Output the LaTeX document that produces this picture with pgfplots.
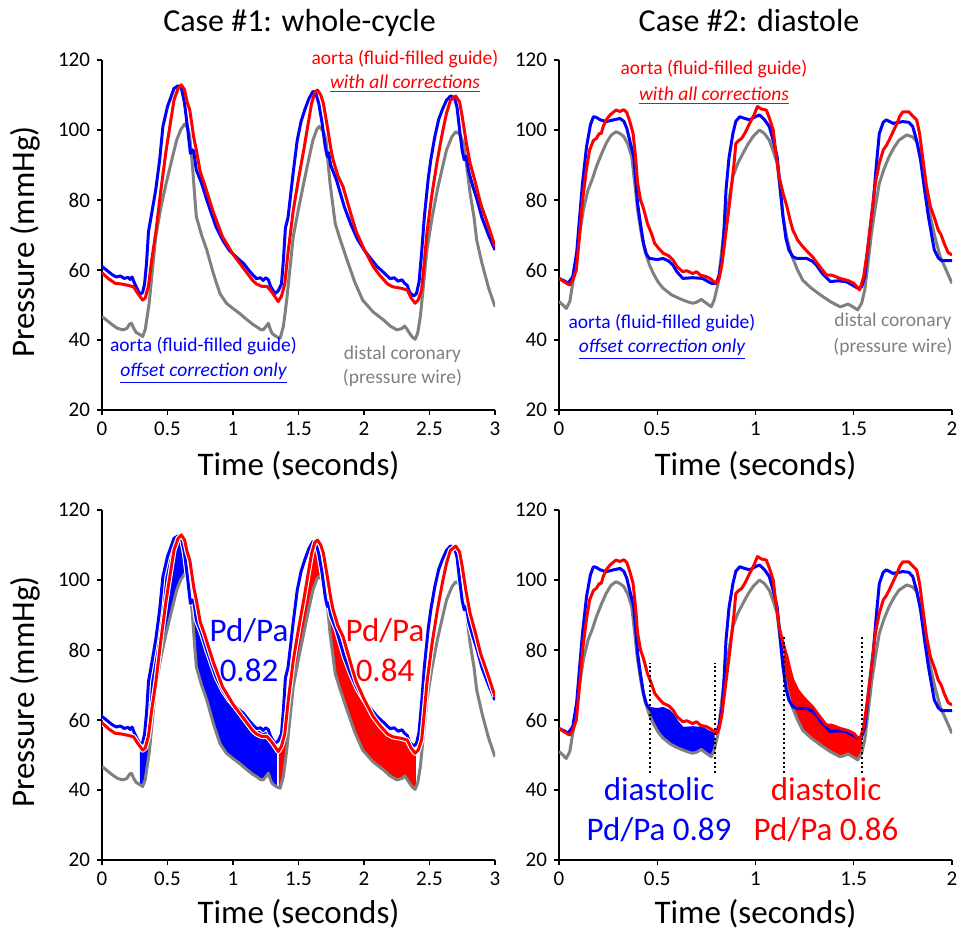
\documentclass[border=0pt]{standalone}
\usepackage{pgfplots}
\pgfplotsset{compat=1.18}
\usepackage{pgfplotstable}
\usepackage{fontspec}
\setmainfont{Carlito}

\definecolor{cblue}{RGB}{0,0,255}
\definecolor{cred}{RGB}{255,0,0}
\definecolor{cgray}{RGB}{128,128,128}
\newcommand{\fa}{\fontsize{9.75}{11}\selectfont}
\newcommand{\fb}{\fontsize{16.5}{19}\selectfont}
\newcommand{\ft}{\fontsize{16}{19}\selectfont}
\newcommand{\fl}{\fontsize{16.5}{20}\selectfont}

% Case 1: aorta, offset correction only
\pgfplotstableread{
t v
0.00 61.0
0.04 59.8
0.08 58.6
0.11 58.0
0.14 58.3
0.17 57.6
0.20 57.9
0.215 57.3
0.23 58.0
0.245 56.5
0.27 54.5
0.29 53.0
0.31 53.6
0.325 56.0
0.34 62.0
0.355 71.0
0.375 75.2
0.41 82.9
0.44 91.4
0.465 101.0
0.50 106.7
0.55 111.9
0.58 112.6
0.605 112.2
0.63 107.6
0.655 100.0
0.675 93.3
0.69 94.3
0.70 94.0
0.72 88.6
0.76 84.8
0.80 80.0
0.87 72.4
0.92 68.6
0.97 65.7
1.03 63.5
1.08 61.9
1.13 59.5
1.18 57.5
1.21 57.8
1.23 57.0
1.25 57.8
1.27 57.2
1.285 55.5
1.30 54.5
1.32 53.3
1.345 54.0
1.37 56.0
1.385 63.0
1.40 72.0
1.42 75.0
1.46 88.0
1.49 97.0
1.52 102.5
1.55 106.0
1.58 109.0
1.61 111.0
1.63 110.8
1.655 107.5
1.68 102.0
1.705 95.0
1.72 92.4
1.73 93.5
1.745 90.0
1.79 85.7
1.85 78.0
1.90 73.0
1.95 68.8
2.00 65.8
2.05 63.3
2.10 61.0
2.15 59.3
2.20 57.5
2.23 57.8
2.26 56.8
2.29 57.2
2.31 56.2
2.33 55.6
2.35 53.5
2.38 52.6
2.40 53.2
2.42 56.5
2.44 65.0
2.46 75.0
2.49 86.0
2.51 91.5
2.54 98.0
2.57 103.0
2.60 106.0
2.63 108.5
2.66 109.7
2.69 109.3
2.71 106.5
2.73 100.0
2.75 94.0
2.765 91.5
2.78 92.5
2.80 88.0
2.83 84.0
2.86 80.5
2.90 75.0
2.95 70.0
3.00 65.7
}\cAb

% Case 1: aorta, all corrections
\pgfplotstableread{
t v
0.00 59.2
0.05 57.5
0.10 56.2
0.15 56.0
0.20 55.6
0.24 55.2
0.27 53.5
0.31 51.4
0.33 52.0
0.355 55.5
0.38 63.0
0.41 70.5
0.45 83.0
0.49 94.3
0.52 101.5
0.55 108.6
0.58 111.8
0.605 112.9
0.63 111.5
0.65 108.0
0.67 105.7
0.70 98.0
0.72 94.3
0.75 88.0
0.78 84.8
0.85 76.5
0.92 69.5
1.00 64.5
1.05 62.0
1.10 59.5
1.15 57.0
1.18 56.0
1.22 55.3
1.26 55.3
1.30 53.5
1.345 51.0
1.37 52.5
1.395 56.0
1.42 65.0
1.46 77.0
1.50 86.0
1.54 94.3
1.57 101.0
1.60 107.6
1.625 110.8
1.645 111.4
1.67 110.0
1.69 107.6
1.72 101.0
1.75 94.0
1.765 91.4
1.80 87.0
1.84 83.8
1.90 76.0
1.94 71.0
2.00 66.0
2.07 61.0
2.12 58.5
2.18 56.0
2.22 55.2
2.28 54.8
2.33 54.3
2.36 52.0
2.39 50.5
2.415 51.5
2.44 54.3
2.46 62.0
2.48 70.5
2.52 82.0
2.56 91.4
2.60 99.5
2.63 104.8
2.66 108.5
2.70 109.7
2.73 108.0
2.75 103.8
2.78 96.5
2.81 90.5
2.85 85.0
2.89 79.0
2.95 72.5
3.00 66.7
}\cAr

% Case 1: distal coronary
\pgfplotstableread{
t v
0.00 46.7
0.04 45.5
0.08 44.3
0.12 43.3
0.16 42.9
0.19 43.3
0.21 44.5
0.225 44.8
0.24 43.5
0.26 42.2
0.29 41.5
0.31 41.0
0.33 43.0
0.36 50.5
0.385 60.0
0.41 69.5
0.45 78.0
0.49 84.8
0.53 91.0
0.57 97.1
0.60 100.0
0.63 101.7
0.655 100.5
0.67 98.1
0.69 90.0
0.71 80.0
0.72 75.2
0.76 70.0
0.80 65.7
0.85 59.0
0.90 53.3
0.95 50.5
1.00 49.0
1.05 47.6
1.10 46.0
1.15 44.5
1.18 43.8
1.21 43.0
1.23 42.9
1.255 44.0
1.27 44.8
1.285 43.0
1.30 41.8
1.33 41.0
1.36 40.5
1.385 44.0
1.41 51.4
1.435 60.5
1.46 69.5
1.50 77.5
1.54 84.8
1.58 92.0
1.61 97.1
1.64 100.2
1.66 101.0
1.69 99.5
1.71 97.1
1.74 85.0
1.78 73.3
1.82 68.5
1.87 62.9
1.93 56.5
1.99 51.4
2.07 48.0
2.15 45.7
2.20 44.0
2.25 42.9
2.29 43.3
2.31 44.0
2.33 43.0
2.35 41.8
2.37 40.8
2.39 40.2
2.41 42.0
2.43 46.7
2.455 56.0
2.48 65.7
2.52 75.0
2.56 82.9
2.60 89.5
2.63 94.3
2.67 98.0
2.70 99.5
2.73 98.8
2.76 96.2
2.79 88.0
2.81 81.9
2.84 75.0
2.86 68.6
2.90 62.0
2.95 55.0
3.00 49.5
}\cAg

% Case 2: aorta, offset correction only
\pgfplotstableread{
t v
0.00 57.6
0.03 56.8
0.046 56.2
0.07 58.1
0.09 65.0
0.105 75.2
0.12 85.0
0.14 95.2
0.16 101.5
0.175 103.8
0.19 103.6
0.21 102.9
0.24 102.4
0.27 102.8
0.31 103.3
0.33 102.5
0.345 100.5
0.36 97.0
0.38 92.4
0.39 86.0
0.40 79.0
0.415 73.0
0.43 67.6
0.445 64.5
0.46 63.3
0.50 63.0
0.53 63.3
0.56 62.5
0.58 61.4
0.60 59.5
0.63 57.6
0.68 57.8
0.73 57.6
0.755 56.8
0.775 56.2
0.80 56.2
0.815 58.5
0.83 63.8
0.84 72.0
0.85 82.9
0.865 92.0
0.885 99.0
0.90 102.5
0.92 103.8
0.94 103.4
0.97 102.9
1.00 103.8
1.02 104.3
1.045 103.0
1.07 101.0
1.09 97.0
1.11 92.4
1.125 84.0
1.14 75.2
1.155 69.0
1.17 65.7
1.19 63.8
1.21 63.3
1.26 63.3
1.29 62.5
1.31 61.4
1.34 59.0
1.38 56.7
1.42 56.9
1.46 56.7
1.49 55.8
1.52 54.8
1.54 55.2
1.556 58.1
1.575 68.0
1.60 80.0
1.615 90.0
1.63 99.0
1.65 102.2
1.665 102.9
1.70 101.9
1.75 102.4
1.78 102.2
1.80 101.0
1.82 97.0
1.84 91.4
1.86 83.0
1.88 75.2
1.91 65.7
1.93 63.5
1.946 62.7
2.00 62.7
}\cBb

% Case 2: aorta, all corrections
\pgfplotstableread{
t v
0.00 57.6
0.03 56.5
0.054 55.7
0.07 57.0
0.088 60.0
0.105 70.0
0.12 80.0
0.14 89.0
0.156 94.3
0.175 97.0
0.19 97.6
0.205 99.0
0.215 99.0
0.225 101.0
0.24 102.9
0.26 104.3
0.29 105.7
0.31 105.3
0.33 105.8
0.345 105.0
0.36 102.5
0.377 99.0
0.39 92.0
0.40 84.8
0.415 80.0
0.427 78.1
0.44 75.5
0.45 73.3
0.47 70.5
0.487 67.6
0.51 66.0
0.53 64.8
0.56 64.0
0.58 62.9
0.60 61.0
0.63 59.5
0.65 59.8
0.68 59.0
0.70 59.5
0.72 58.5
0.75 58.1
0.77 57.5
0.80 56.2
0.815 57.5
0.83 61.9
0.85 71.0
0.87 80.0
0.89 90.0
0.90 96.2
0.915 97.0
0.93 97.6
0.95 99.5
0.97 101.9
0.99 104.0
1.01 106.7
1.03 106.0
1.055 105.7
1.07 103.5
1.09 100.0
1.105 93.0
1.12 86.7
1.14 82.0
1.16 78.1
1.175 74.5
1.19 71.4
1.215 68.5
1.24 66.7
1.26 65.5
1.29 63.8
1.32 61.5
1.36 58.6
1.39 58.5
1.43 57.6
1.47 57.0
1.50 56.2
1.53 54.3
1.55 58.0
1.57 65.7
1.59 75.0
1.61 84.8
1.63 90.5
1.65 94.3
1.665 95.5
1.68 97.1
1.70 99.5
1.72 101.9
1.735 104.0
1.75 105.2
1.78 105.2
1.80 104.0
1.82 102.9
1.835 99.0
1.85 92.4
1.87 84.0
1.89 78.1
1.91 75.0
1.93 71.4
1.945 70.0
1.96 67.6
1.98 65.0
2.00 64.3
}\cBr

% Case 2: distal coronary
\pgfplotstableread{
t v
0.00 51.0
0.02 50.0
0.037 49.0
0.055 51.0
0.07 56.2
0.09 64.0
0.105 70.5
0.125 77.5
0.148 82.9
0.17 86.0
0.19 89.5
0.215 93.0
0.24 96.2
0.265 98.5
0.29 99.5
0.31 99.0
0.33 98.1
0.35 96.0
0.37 92.4
0.385 85.0
0.40 77.1
0.42 70.0
0.436 65.7
0.46 61.5
0.48 59.0
0.505 56.5
0.53 54.8
0.57 53.0
0.61 51.9
0.65 51.0
0.68 50.5
0.70 50.8
0.724 51.6
0.75 50.5
0.775 49.5
0.79 51.5
0.81 56.2
0.825 64.0
0.843 72.4
0.865 80.0
0.885 86.7
0.91 90.5
0.936 93.3
0.96 95.8
0.987 98.1
1.02 100.0
1.045 99.0
1.07 97.1
1.09 94.0
1.11 90.5
1.125 83.0
1.14 75.2
1.16 69.0
1.18 64.8
1.21 60.5
1.24 57.1
1.28 55.0
1.33 52.9
1.38 51.0
1.43 49.5
1.45 49.8
1.47 50.3
1.495 49.5
1.52 48.6
1.54 50.5
1.556 54.3
1.575 63.0
1.59 70.5
1.61 78.0
1.63 84.8
1.655 89.0
1.68 92.4
1.705 95.0
1.73 97.1
1.77 98.6
1.80 98.0
1.82 96.7
1.835 93.5
1.85 89.5
1.87 82.0
1.89 75.2
1.915 69.0
1.94 63.8
1.97 60.0
2.00 56.2
}\cBg

% Shaded areas: upper curve forward, distal coronary backward
\pgfplotstableread{
t v
0.29 53.0
0.31 53.6
0.325 56.0
0.34 62.0
0.355 71.0
0.375 75.2
0.41 82.9
0.44 91.4
0.465 101.0
0.50 106.7
0.55 111.9
0.58 112.6
0.605 112.2
0.63 107.6
0.655 100.0
0.675 93.3
0.69 94.3
0.70 94.0
0.72 88.6
0.76 84.8
0.80 80.0
0.87 72.4
0.92 68.6
0.97 65.7
1.03 63.5
1.08 61.9
1.13 59.5
1.18 57.5
1.21 57.8
1.23 57.0
1.25 57.8
1.27 57.2
1.285 55.5
1.30 54.5
1.32 53.3
1.335 53.6
1.335 41.0
1.30 41.8
1.285 43.0
1.27 44.8
1.255 44.0
1.23 42.9
1.21 43.0
1.18 43.8
1.15 44.5
1.10 46.0
1.05 47.6
1.00 49.0
0.95 50.5
0.90 53.3
0.85 59.0
0.80 65.7
0.76 70.0
0.72 75.2
0.71 80.0
0.69 90.0
0.67 98.1
0.655 100.5
0.63 101.7
0.60 100.0
0.57 97.1
0.53 91.0
0.49 84.8
0.45 78.0
0.41 69.5
0.385 60.0
0.36 50.5
0.33 43.0
0.31 41.0
0.29 41.5
}\fAb

\pgfplotstableread{
t v
1.35 51.3
1.37 52.5
1.395 56.0
1.42 65.0
1.46 77.0
1.50 86.0
1.54 94.3
1.57 101.0
1.60 107.6
1.625 110.8
1.645 111.4
1.67 110.0
1.69 107.6
1.72 101.0
1.75 94.0
1.765 91.4
1.80 87.0
1.84 83.8
1.90 76.0
1.94 71.0
2.00 66.0
2.07 61.0
2.12 58.5
2.18 56.0
2.22 55.2
2.28 54.8
2.33 54.3
2.36 52.0
2.39 50.5
2.395 50.6
2.395 40.5
2.37 40.8
2.35 41.8
2.33 43.0
2.31 44.0
2.29 43.3
2.25 42.9
2.20 44.0
2.15 45.7
2.07 48.0
1.99 51.4
1.93 56.5
1.87 62.9
1.82 68.5
1.78 73.3
1.74 85.0
1.71 97.1
1.69 99.5
1.66 101.0
1.64 100.2
1.61 97.1
1.58 92.0
1.54 84.8
1.50 77.5
1.46 69.5
1.435 60.5
1.41 51.4
1.385 44.0
1.36 40.5
1.35 40.7
}\fAr

\pgfplotstableread{
t v
0.461 63.3
0.50 63.0
0.53 63.3
0.56 62.5
0.58 61.4
0.60 59.5
0.63 57.6
0.68 57.8
0.73 57.6
0.755 56.8
0.775 56.2
0.792 56.2
0.792 52.0
0.775 49.5
0.75 50.5
0.724 51.6
0.70 50.8
0.68 50.5
0.65 51.0
0.61 51.9
0.57 53.0
0.53 54.8
0.505 56.5
0.48 59.0
0.461 61.4
}\fBb

\pgfplotstableread{
t v
1.143 81.5
1.16 78.1
1.175 74.5
1.19 71.4
1.215 68.5
1.24 66.7
1.26 65.5
1.29 63.8
1.32 61.5
1.36 58.6
1.39 58.5
1.43 57.6
1.47 57.0
1.50 56.2
1.53 54.3
1.542 56.5
1.542 50.9
1.52 48.6
1.495 49.5
1.47 50.3
1.45 49.8
1.43 49.5
1.38 51.0
1.33 52.9
1.28 55.0
1.24 57.1
1.21 60.5
1.18 64.8
1.16 69.0
1.143 74.4
}\fBr

\pgfplotsset{
  pan/.style={
    scale only axis, width=196.5pt, height=175pt,
    ymin=20, ymax=120, ytick={20,40,...,120},
    axis lines=left, axis line style={-, line width=1pt, black},
    tick align=outside, major tick length=2.5pt,
    tick style={black, line width=0.6pt},
    /pgf/number format/assume math mode=true,
    ticklabel style={font=\fontsize{10.5}{12}\selectfont},
    xlabel={Time (seconds)},
    xlabel style={at={(axis description cs:0.5,0)}, anchor=base, font=\fl},
  },
  lpan/.style={pan, xmin=0, xmax=3, xtick={0,0.5,...,3},
    ylabel={Pressure (mmHg)},
    ylabel style={at={(axis description cs:-0.173,0.48)}, anchor=base, font=\fl}},
  rpan/.style={pan, xmin=0, xmax=2, xtick={0,0.5,...,2}},
  gl/.style={cgray, line width=1.5pt, line join=round},
  bl/.style={cblue, line width=1.5pt, line join=round},
  rl/.style={cred, line width=1.5pt, line join=round},
  halo/.style={white, line width=2.6pt, line join=round},
  dots/.style={black, line width=1pt, dash pattern=on 1pt off 1.4pt},
}

\begin{document}
\begin{tikzpicture}
\path[use as bounding box] (0,0) rectangle (478.5pt,-465.5pt);

% ---------- top left ----------
\begin{axis}[lpan, at={(51pt,-205pt)}, anchor=south west, xlabel style={yshift=-32.5pt}]
\addplot[gl] table {\cAg};
\addplot[bl] table {\cAb};
\addplot[rl] table {\cAr};
\end{axis}

% ---------- top right ----------
\begin{axis}[rpan, at={(279.5pt,-205pt)}, anchor=south west, xlabel style={yshift=-32.5pt}]
\addplot[gl] table {\cBg};
\addplot[bl] table {\cBb};
\addplot[rl] table {\cBr};
\end{axis}

% ---------- bottom left ----------
\begin{axis}[lpan, at={(51pt,-430pt)}, anchor=south west, xlabel style={yshift=-31.5pt}]
\addplot[fill=cblue, draw=none] table {\fAb};
\addplot[fill=cred, draw=none] table {\fAr};
\addplot[gl] table {\cAg};
\addplot[halo] table {\cAb};
\addplot[bl] table {\cAb};
\addplot[halo] table {\cAr};
\addplot[rl] table {\cAr};
\end{axis}

% ---------- bottom right ----------
\begin{axis}[rpan, at={(279.5pt,-430pt)}, anchor=south west, xlabel style={yshift=-31.5pt}]
\addplot[fill=cblue, draw=none] table {\fBb};
\addplot[fill=cred, draw=none] table {\fBr};
\addplot[gl] table {\cBg};
\addplot[bl] table {\cBb};
\addplot[rl] table {\cBr};
\addplot[dots] coordinates {(0.461,44.8) (0.461,76.4)};
\addplot[dots] coordinates {(0.792,44.8) (0.792,76.4)};
\addplot[dots] coordinates {(1.143,44.8) (1.143,84.3)};
\addplot[dots] coordinates {(1.542,44.8) (1.542,84.3)};
\end{axis}

% ---------- titles ----------
\node[anchor=base, font=\ft] at (149.75pt,-15.8pt) {Case \#1: whole-cycle};
\node[anchor=base, font=\ft] at (374.5pt,-15.8pt) {Case \#2: diastole};

% ---------- annotations top left ----------
\node[anchor=base, font=\fa, text=cred] at (202.5pt,-32.5pt) {aorta (fluid-filled guide)};
\node[anchor=base, font=\fa, text=cred] at (202.5pt,-44.25pt) {\underline{\itshape with all corrections}};
\node[anchor=base, font=\fa, text=cblue] at (101.75pt,-175.8pt) {aorta (fluid-filled guide)};
\node[anchor=base, font=\fa, text=cblue] at (101.75pt,-188.3pt) {\underline{\itshape offset correction only}};
\node[anchor=base, font=\fa, text=cgray] at (201.25pt,-179.5pt) {distal coronary};
\node[anchor=base, font=\fa, text=cgray] at (201.25pt,-191.5pt) {(pressure wire)};

% ---------- annotations top right ----------
\node[anchor=base, font=\fa, text=cred] at (357pt,-37.5pt) {aorta (fluid-filled guide)};
\node[anchor=base, font=\fa, text=cred] at (357pt,-50pt) {\underline{\itshape with all corrections}};
\node[anchor=base, font=\fa, text=cblue] at (331pt,-164pt) {aorta (fluid-filled guide)};
\node[anchor=base, font=\fa, text=cblue] at (331pt,-176pt) {\underline{\itshape offset correction only}};
\node[anchor=base, font=\fa, text=cgray] at (446.5pt,-163pt) {distal coronary};
\node[anchor=base, font=\fa, text=cgray] at (446.5pt,-176pt) {(pressure wire)};

% ---------- annotations bottom left ----------
\node[anchor=base, font=\fb, text=cblue] at (124.5pt,-320.8pt) {Pd/Pa};
\node[anchor=base, font=\fb, text=cblue] at (124.5pt,-340.8pt) {0.82};
\node[anchor=base, font=\fb, text=cred] at (192.5pt,-320.8pt) {Pd/Pa};
\node[anchor=base, font=\fb, text=cred] at (192.5pt,-340.8pt) {0.84};

% ---------- annotations bottom right ----------
\node[anchor=base, font=\fb, text=cblue] at (329.5pt,-400pt) {diastolic};
\node[anchor=base, font=\fb, text=cblue] at (329.5pt,-420.3pt) {Pd/Pa 0.89};
\node[anchor=base, font=\fb, text=cred] at (413pt,-400pt) {diastolic};
\node[anchor=base, font=\fb, text=cred] at (413pt,-420.3pt) {Pd/Pa 0.86};
\end{tikzpicture}
\end{document}
